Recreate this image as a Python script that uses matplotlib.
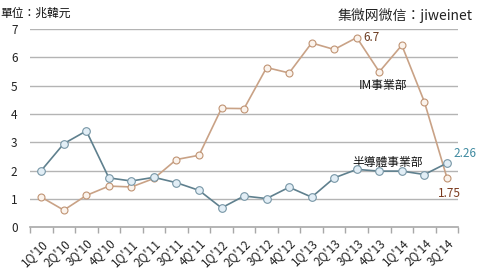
import matplotlib
matplotlib.use("Agg")
import matplotlib.pyplot as plt

plt.rcParams['font.family'] = ['Noto Sans CJK TC', 'DejaVu Sans']

# Quarter labels
QUARTERS = ["1Q'10", "2Q'10", "3Q'10", "4Q'10",
            "1Q'11", "2Q'11", "3Q'11", "4Q'11",
            "1Q'12", "2Q'12", "3Q'12", "4Q'12",
            "1Q'13", "2Q'13", "3Q'13", "4Q'13",
            "1Q'14", "2Q'14", "3Q'14"]

# Semiconductor division (trillion won)
SEMI = [2.0, 2.95, 3.4, 1.74, 1.63, 1.76, 1.57, 1.30, 0.68, 1.10,
        1.01, 1.41, 1.06, 1.74, 2.04, 1.98, 1.98, 1.86, 2.26]

# IM division (trillion won)
IM = [1.06, 0.60, 1.12, 1.45, 1.42, 1.72, 2.39, 2.54, 4.20, 4.19,
      5.64, 5.45, 6.51, 6.28, 6.70, 5.49, 6.43, 4.43, 1.75]

Y_TICKS = [0, 1, 2, 3, 4, 5, 6, 7]

fig = plt.figure(figsize=(4.8, 2.72), dpi=100)
ax = fig.add_axes([0.0625, 0.165, 0.892, 0.728])

x = list(range(len(QUARTERS)))

# gridlines
for y in Y_TICKS[1:]:
    ax.axhline(y, color="#b4b4b4", lw=1.0, zorder=1)

ax.plot(x, IM, color="#c9a286", lw=1.2, marker="o", markersize=5,
        markerfacecolor="#fbf3ec", markeredgecolor="#c09474", markeredgewidth=0.8, zorder=3)
ax.plot(x, SEMI, color="#5f808e", lw=1.2, marker="o", markersize=5.5,
        markerfacecolor="#e2eef6", markeredgecolor="#7796a6", markeredgewidth=0.8, zorder=4)

ax.set_xlim(-0.5, len(QUARTERS) - 0.5)
ax.set_ylim(0, 7)

for s in ["top", "right", "left"]:
    ax.spines[s].set_visible(False)
ax.spines["bottom"].set_color("#a8a8a8")
ax.spines["bottom"].set_linewidth(1.2)

ax.set_yticks(Y_TICKS)
ax.set_yticklabels([str(v) for v in Y_TICKS], fontsize=8.5, color="#222222")
ax.tick_params(axis="y", length=0, pad=9)

# category ticks between quarters
ax.set_xticks([i - 0.5 for i in range(len(QUARTERS) + 1)], minor=True)
ax.tick_params(axis="x", which="minor", length=4, color="#a8a8a8", width=1)
ax.set_xticks(x)
ax.set_xticklabels(QUARTERS, rotation=45, ha="right", fontsize=8.5, color="#222222",
                   rotation_mode="anchor")
ax.tick_params(axis="x", which="major", length=0, pad=7)

# annotations
ax.text(14.3, IM[14], "6.7", fontsize=8.5, color="#6b3a1e", va="center", ha="left")
ax.text(14.1, 5.0, "IM事業部", fontsize=8.5, color="#111111", va="center", ha="left")
ax.text(13.8, 2.3, "半導體事業部", fontsize=8.5, color="#111111", va="center", ha="left")
ax.text(18.3, 2.6, "2.26", fontsize=8.5, color="#3f8aa0", va="center", ha="left")
ax.text(17.6, 1.2, "1.75", fontsize=8.5, color="#7a3a1e", va="center", ha="left")

fig.text(0.0, 0.975, "單位：兆韓元", fontsize=8.5, color="#111111", va="top", ha="left")
fig.text(0.985, 0.97, "集微网微信：jiweinet", fontsize=10, color="#222222",
         va="top", ha="right")

fig.savefig("out.png", dpi=100)
